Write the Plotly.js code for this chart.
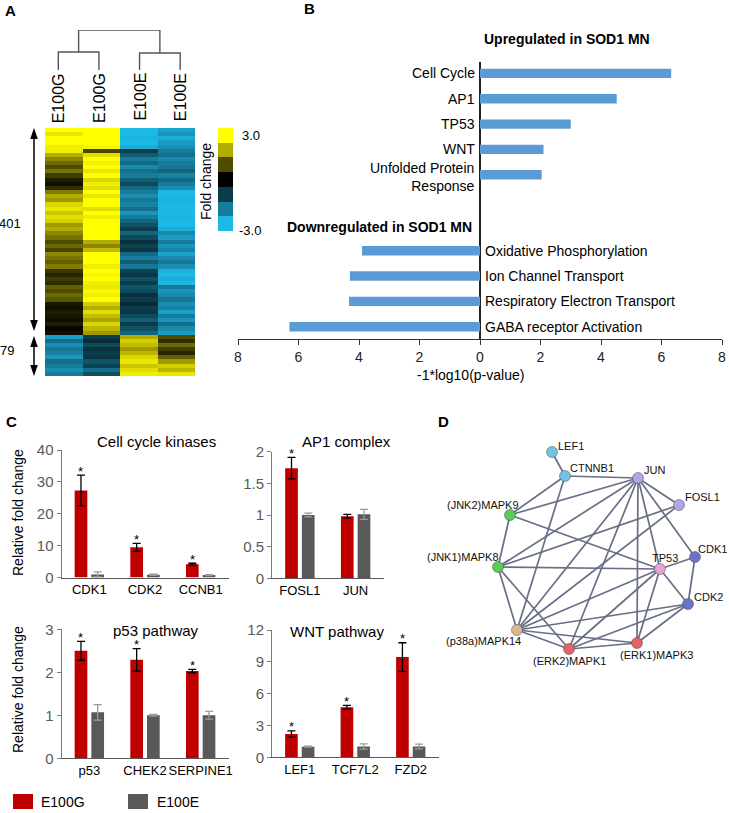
<!DOCTYPE html>
<html>
<head>
<meta charset="utf-8">
<script src="https://cdn.plot.ly/plotly-3.0.1.min.js"></script>
<style>
  html, body { margin: 0; padding: 0; background: #fff; }
  #fig { width: 729px; height: 813px; }
</style>
</head>
<body>
<div id="fig"></div>
<script>
// ---- panel A: heatmap (rows top to bottom, 50 rows for the 401 cluster, 10 for the 79 cluster)
const heatG1 = [3, 2.7, 3, 3, 2.8, 2.8, 2.0, 1.6, 1.3, 1.0, 1.4, 0.8, 0.4, 0.2, 0.6, 1.5, 2.0, 1.8, 2.5, 2.7, 2.3, 2.6, 2.4, 1.8, 2.0, 1.6, 1.4, 1.0, 1.3, 0.9, 1.6, 1.4, 1.2, 1.5, 0.7, 0.5, 0.8, 0.6, 1.2, 1.0, 1.3, 1.1, 0.3, 0.2, 0.4, 0.3, 0.2, 0.4, 0.1, 0.2,
  -2.6, -1.8, -2.3, -1.9, -2.1, -2.4, -1.8, -2.0, -2.3, -2.0];
const heatG2 = [3, 3, 3, 3, 2.9, 0.9, 2.6, 3, 2.8, 3, 2.7, 3, 2.5, 2.8, 2.6, 3, 2.7, 3, 3, 2.6, 3, 2.8, 3, 3, 3, 3, 3, 2.0, 1.6, 2.2, 3, 3, 3, 2.8, 3, 2.9, 3, 2.8, 2.7, 2.9, 2.8, 3, 2.4, 2.0, 2.6, 2.2, 1.9, 2.5, 2.1, 1.8,
  -1.0, -0.7, -1.2, -0.8, -1.0, -0.9, -1.4, -1.1, -1.8, -1.3];
const heatE1 = [-3, -3, -2.9, -3, -2.8, -1.0, -1.5, -2.0, -1.7, -2.2, -1.8, -2.0, -1.5, -1.2, -1.7, -2.0, -2.3, -1.9, -2.1, -1.8, -2.4, -2.0, -1.6, -1.3, -1.0, -1.6, -1.2, -0.8, -1.1, -0.9, -1.7, -2.0, -1.5, -1.9, -1.1, -0.9, -1.3, -1.0, -1.4, -1.2, -0.8, -1.0, -0.7, -1.0, -0.9, -1.2, -1.5, -1.0, -1.3, -1.6,
  2.0, 2.4, 2.2, 1.8, 2.1, 2.5, 2.7, 2.3, 2.6, 2.8];
const heatE2 = [-2.6, -2.4, -2.8, -2.5, -2.3, -2.0, -1.8, -2.2, -2.0, -1.9, -1.6, -2.1, -1.7, -2.0, -2.3, -3, -3, -2.9, -3, -3, -3, -2.9, -3, -3, -2.8, -2.2, -2.5, -2.0, -2.4, -2.1, -2.6, -2.2, -1.9, -2.3, -2.9, -3, -2.8, -3, -2.0, -2.4, -2.2, -1.9, -2.3, -2.1, -2.6, -2.0, -2.4, -1.8, -2.2, -2.5,
  1.0, 0.6, 1.3, 0.8, 0.5, 1.2, 1.8, 2.4, 2.1, 2.7];
const sampleLabels = ["E100G", "E100G", "E100E", "E100E"];
const dendroHeights = [0.45, 0.425, 1.0]; // pair 1, pair 2, root
const foldSteps = [3, 2, 1, 0, -1, -2, -3];
const clusterSizes = ["401", "79"];

// ---- panel B
const upTerms = ["Cell Cycle", "AP1", "TP53", "WNT", "Unfolded Protein<br>Response"];
const upValues = [6.32, 4.52, 3.0, 2.1, 2.04];
const downTerms = ["Oxidative Phosphorylation", "Ion Channel Transport", "Respiratory Electron Transport", "GABA receptor Activation"];
const downValues = [-3.9, -4.3, -4.33, -6.3];
const bTickVals = [-8, -6, -4, -2, 0, 2, 4, 6, 8];
const bTickText = ["8", "6", "4", "2", "0", "2", "4", "6", "8"];

// ---- panel C
const ccCats = ["CDK1", "CDK2", "CCNB1"];
const ccG = [27.3, 9.5, 4.2], ccGerr = [4.8, 1.2, 0.3];
const ccE = [1.0, 0.9, 0.8], ccEerr = [0.8, 0.2, 0.15];
const ccSig = [1, 1, 1];

const apCats = ["FOSL1", "JUN"];
const apG = [1.74, 0.98], apGerr = [0.17, 0.03];
const apE = [1.0, 1.01], apEerr = [0.03, 0.08];
const apSig = [1, 0];

const p53Cats = ["p53", "CHEK2", "SERPINE1"];
const p53G = [2.5, 2.29, 2.03], p53Gerr = [0.22, 0.26, 0.04];
const p53E = [1.07, 1.0, 1.0], p53Eerr = [0.18, 0.02, 0.09];
const p53Sig = [1, 1, 1];

const wntCats = ["LEF1", "TCF7L2", "FZD2"];
const wntG = [2.2, 4.72, 9.45], wntGerr = [0.3, 0.18, 1.35];
const wntE = [1.0, 1.02, 1.02], wntEerr = [0.05, 0.25, 0.22];
const wntSig = [1, 1, 1];

// ---- panel D network
const nodeNames = ["LEF1", "CTNNB1", "JUN", "FOSL1", "MAPK9", "MAPK8", "TP53", "CDK1", "CDK2", "MAPK14", "MAPK1", "MAPK3"];
const nodeLabels = ["LEF1", "CTNNB1", "JUN", "FOSL1", "(JNK2)MAPK9", "(JNK1)MAPK8", "TP53", "CDK1", "CDK2", "(p38a)MAPK14", "(ERK2)MAPK1", "(ERK1)MAPK3"];
const nodeX = [552, 565, 638, 679, 510, 498, 660, 695, 688, 517, 569, 637];
const nodeY = [452, 476, 478, 505, 515, 567, 569, 557, 604, 630, 649, 643];
const edges = [
  ["LEF1", "CTNNB1"], ["CTNNB1", "JUN"], ["CTNNB1", "MAPK9"], ["CTNNB1", "MAPK14"],
  ["JUN", "MAPK9"], ["JUN", "MAPK8"], ["JUN", "MAPK14"], ["JUN", "MAPK1"], ["JUN", "MAPK3"],
  ["JUN", "TP53"], ["JUN", "FOSL1"], ["JUN", "CDK1"],
  ["FOSL1", "MAPK8"], ["FOSL1", "MAPK14"],
  ["MAPK9", "MAPK8"], ["MAPK9", "TP53"],
  ["MAPK8", "TP53"], ["MAPK8", "MAPK14"], ["MAPK8", "MAPK1"],
  ["TP53", "CDK1"], ["TP53", "CDK2"], ["TP53", "MAPK14"], ["TP53", "MAPK1"], ["TP53", "MAPK3"],
  ["CDK1", "CDK2"], ["CDK2", "MAPK3"], ["CDK2", "MAPK14"], ["CDK2", "MAPK1"],
  ["MAPK14", "MAPK1"], ["MAPK14", "MAPK3"], ["MAPK1", "MAPK3"]
];

// ---------------------------------------------------------------
const W = 729, H = 813;
const fx = p => p / W;
const fy = p => 1 - p / H;
const domX = (a, b) => [fx(a), fx(b)];
const domY = (top, bottom) => [fy(bottom), fy(top)];
const FONT = 'Arial, "Liberation Sans", sans-serif';
const RED = "#c00000", GRAY = "#595959";

const foldScale = [
  [0, "#1cb9e6"], [0.1667, "#177c9c"], [0.3333, "#0b3d4b"], [0.5, "#000000"],
  [0.6667, "#4f4c00"], [0.8333, "#b4ad00"], [1, "#ffff00"]
];

const traces = [];
const annotations = [];
const shapes = [];
const ann = (o) => annotations.push(Object.assign({
  showarrow: false, xanchor: "center", yanchor: "middle",
  font: { family: FONT, size: 14, color: "#000" }
}, o));

// heatmap
traces.push({
  type: "heatmap", xaxis: "x", yaxis: "y",
  z: heatG1.map((v, i) => [v, heatG2[i], heatE1[i], heatE2[i]]),
  x: [0, 1, 2, 3], y: heatG1.map((v, i) => i),
  colorscale: foldScale, zmin: -3, zmax: 3, showscale: false, hoverinfo: "skip"
});
// colour key
traces.push({
  type: "heatmap", xaxis: "x2", yaxis: "y2",
  z: foldSteps.map(v => [v]), x: [0], y: foldSteps.map((v, i) => i),
  colorscale: foldScale, zmin: -3, zmax: 3, showscale: false, hoverinfo: "skip"
});
// dendrogram
const [h1, h2, hr] = dendroHeights;
traces.push({
  type: "scatter", mode: "lines", xaxis: "x3", yaxis: "y3", cliponaxis: false, hoverinfo: "skip",
  x: [0, 0, 1, 1, null, 2, 2, 3, 3, null, 0.5, 0.5, 2.5, 2.5],
  y: [0, h1, h1, 0, null, 0, h2, h2, 0, null, h1, hr, hr, h2],
  line: { color: "#555", width: 1.4 }
});
sampleLabels.forEach((s, i) => ann({ xref: "x3", yref: "paper", x: i, y: fy(71), yanchor: "top", textangle: -90, text: s, font: { family: FONT, size: 16, color: "#000" } }));
ann({ xref: "paper", yref: "paper", x: fx(240), y: fy(136), xanchor: "left", text: foldSteps[0].toFixed(1), font: { family: FONT, size: 13, color: "#000" } });
ann({ xref: "paper", yref: "paper", x: fx(237), y: fy(231), xanchor: "left", text: foldSteps[6].toFixed(1), font: { family: FONT, size: 13, color: "#000" } });
ann({ xref: "paper", yref: "paper", x: fx(206), y: fy(182), textangle: -90, text: "Fold change", font: { family: FONT, size: 14, color: "#000" } });
ann({ xref: "paper", yref: "paper", x: fx(22.5), y: fy(223), xanchor: "right", text: clusterSizes[0], font: { family: FONT, size: 13, color: "#000" } });
ann({ xref: "paper", yref: "paper", x: fx(16), y: fy(351), xanchor: "right", text: clusterSizes[1], font: { family: FONT, size: 13, color: "#000" } });

// double arrows beside the clusters
const arrow = (x, top, bottom) => {
  shapes.push({ type: "line", xref: "paper", yref: "paper", x0: fx(x), x1: fx(x), y0: fy(top + 4), y1: fy(bottom - 4), line: { color: "#000", width: 1.5 } });
  const tri = (apex, dir) => `M ${fx(x)} ${fy(apex)} L ${fx(x - 3.8)} ${fy(apex + dir * 11)} L ${fx(x + 3.8)} ${fy(apex + dir * 11)} Z`;
  shapes.push({ type: "path", xref: "paper", yref: "paper", path: tri(top, 1), fillcolor: "#000", line: { width: 0 } });
  shapes.push({ type: "path", xref: "paper", yref: "paper", path: tri(bottom, -1), fillcolor: "#000", line: { width: 0 } });
};
arrow(34, 128, 331);
arrow(34, 336, 376);

// panel B bars
const upPos = upTerms.map((t, i) => 11 - i);
const downPos = downTerms.map((t, i) => 4 - i);
traces.push({
  type: "bar", orientation: "h", xaxis: "x4", yaxis: "y4", hoverinfo: "skip",
  x: upValues.concat(downValues), y: upPos.concat(downPos), width: 0.37,
  marker: { color: "#5b9bd5" }
});
upTerms.forEach((t, i) => ann({ xref: "x4", yref: "y4", x: 0, y: upPos[i], xanchor: "right", xshift: -3, align: "right", text: t, yshift: i === 4 ? -2 : 0 }));
downTerms.forEach((t, i) => ann({ xref: "x4", yref: "y4", x: 0, y: downPos[i], xanchor: "left", xshift: 3, text: t }));
ann({ xref: "paper", yref: "paper", x: fx(567), y: fy(39), text: "<b>Upregulated in SOD1 MN</b>" });
ann({ xref: "paper", yref: "paper", x: fx(474), y: fy(227), xanchor: "right", text: "<b>Downregulated in SOD1 MN</b>" });
ann({ xref: "paper", yref: "paper", x: fx(471), y: fy(375), text: "-1*log10(p-value)" });

// panel C
function barPanel(cats, g, gErr, e, eErr, sig, n) {
  const xs = cats.map((c, i) => i);
  traces.push({
    type: "bar", xaxis: "x" + n, yaxis: "y" + n, x: xs, y: g, width: 0.228, offset: -0.264,
    marker: { color: RED }, hoverinfo: "skip",
    error_y: { type: "data", array: gErr, color: "#000", thickness: 1.3, width: 4 }
  });
  traces.push({
    type: "bar", xaxis: "x" + n, yaxis: "y" + n, x: xs, y: e, width: 0.228, offset: 0.036,
    marker: { color: GRAY }, hoverinfo: "skip",
    error_y: { type: "data", array: eErr, color: "#9a9a9a", thickness: 1.3, width: 4 }
  });
  // significance stars above the E100G error bars
  xs.forEach(i => {
    if (!sig[i]) return;
    ann({ xref: "x" + n, yref: "y" + n, x: i - 0.15, y: g[i] + gErr[i], yshift: 4, text: "*", font: { family: FONT, size: 13, color: "#000" } });
  });
}
barPanel(ccCats, ccG, ccGerr, ccE, ccEerr, ccSig, 5);
barPanel(apCats, apG, apGerr, apE, apEerr, apSig, 6);
barPanel(p53Cats, p53G, p53Gerr, p53E, p53Eerr, p53Sig, 7);
barPanel(wntCats, wntG, wntGerr, wntE, wntEerr, wntSig, 8);

const titleFont = { family: FONT, size: 15, color: "#000" };
ann({ xref: "paper", yref: "paper", x: fx(156), y: fy(442), text: "Cell cycle kinases", font: titleFont });
ann({ xref: "paper", yref: "paper", x: fx(346), y: fy(442), text: "AP1 complex", font: titleFont });
ann({ xref: "paper", yref: "paper", x: fx(156), y: fy(630), text: "p53 pathway", font: titleFont });
ann({ xref: "paper", yref: "paper", x: fx(337), y: fy(631), text: "WNT pathway", font: titleFont });
ann({ xref: "paper", yref: "paper", x: fx(18), y: fy(513), textangle: -90, text: "Relative fold change" });
ann({ xref: "paper", yref: "paper", x: fx(18), y: fy(690), textangle: -90, text: "Relative fold change" });

// legend
shapes.push({ type: "rect", xref: "paper", yref: "paper", x0: fx(13), x1: fx(33), y0: fy(809), y1: fy(794), fillcolor: RED, line: { width: 0 } });
shapes.push({ type: "rect", xref: "paper", yref: "paper", x0: fx(128), x1: fx(148), y0: fy(809), y1: fy(794), fillcolor: GRAY, line: { width: 0 } });
ann({ xref: "paper", yref: "paper", x: fx(39), y: fy(802), xanchor: "left", text: "E100G" });
ann({ xref: "paper", yref: "paper", x: fx(155), y: fy(802), xanchor: "left", text: "E100E" });

// panel D network
const idx = name => nodeNames.indexOf(name);
const ex = [], ey = [];
edges.forEach(([a, b]) => {
  ex.push(nodeX[idx(a)], nodeX[idx(b)], null);
  ey.push(nodeY[idx(a)], nodeY[idx(b)], null);
});
traces.push({
  type: "scatter", mode: "lines", xaxis: "x9", yaxis: "y9", hoverinfo: "skip",
  x: ex, y: ey, line: { color: "#58607a", width: 1.7 }, opacity: 0.9
});
const nodeColor = {
  LEF1: "#73c3e3", CTNNB1: "#73c3e3", JUN: "#b6a2e6", FOSL1: "#b6a2e6",
  MAPK9: "#55cf55", MAPK8: "#55cf55", TP53: "#e9a3d3", CDK1: "#6a73cc", CDK2: "#6a73cc",
  MAPK14: "#d9b68f", MAPK1: "#e36464", MAPK3: "#e36464"
};
traces.push({
  type: "scatter", mode: "markers", xaxis: "x9", yaxis: "y9", hoverinfo: "skip", cliponaxis: false,
  x: nodeX, y: nodeY,
  marker: {
    size: 11, color: nodeNames.map(n => nodeColor[n]),
    line: { color: "rgba(60,60,80,0.45)", width: 1 }
  }
});
const labelPlace = {
  LEF1: ["left", 4, 6], CTNNB1: ["left", 3, 8], JUN: ["left", 4, 8], FOSL1: ["left", 4, 8],
  MAPK9: ["right", 11, 10], MAPK8: ["right", 3, 10], TP53: ["center", 5, 11],
  CDK1: ["left", 1, 8], CDK2: ["left", 4, 7], MAPK14: ["right", 6, -11],
  MAPK1: ["center", 0, -12], MAPK3: ["center", 19, -12]
};
nodeNames.forEach((n, i) => {
  const p = labelPlace[n];
  ann({ xref: "x9", yref: "y9", x: nodeX[i], y: nodeY[i], xanchor: p[0], xshift: p[1], yshift: p[2], text: nodeLabels[i], font: { family: FONT, size: 11, color: "#111" } });
});

// panel letters
const letter = (t, x, y) => ann({ xref: "paper", yref: "paper", x: fx(x), y: fy(y), text: "<b>" + t + "</b>", font: { family: FONT, size: 15, color: "#000" } });
letter("A", 10, 10); letter("B", 309, 9); letter("C", 11, 422); letter("D", 443, 421);

// axes
const hidden = { showgrid: false, zeroline: false, showticklabels: false, ticks: "", showline: false, fixedrange: true };
const cX = (cats, a, b) => ({
  domain: domX(a, b), range: [-0.5, cats.length - 0.5], tickvals: cats.map((c, i) => i), ticktext: cats,
  tickangle: 0, showline: true, linecolor: "#595959", linewidth: 1, ticks: "", showgrid: false, zeroline: false,
  tickfont: { family: FONT, size: 13, color: "#000" }, fixedrange: true
});
const cY = (top, bottom, max, dtick, anchor) => ({
  domain: domY(top, bottom), range: [0, max], dtick: dtick, anchor: anchor,
  showline: true, linecolor: "#7a7a7a", linewidth: 1, ticks: "outside", ticklen: 4, tickcolor: "#7a7a7a",
  showgrid: false, zeroline: false, tickfont: { family: FONT, size: 15, color: "#595959" }, fixedrange: true
});

const layout = {
  width: W, height: H, margin: { l: 0, r: 0, t: 0, b: 0 },
  paper_bgcolor: "#fff", plot_bgcolor: "rgba(0,0,0,0)",
  font: { family: FONT, color: "#000" },
  showlegend: false, barmode: "overlay",
  xaxis: Object.assign({}, hidden, { domain: domX(45, 195), range: [-0.5, 3.5] }),
  yaxis: Object.assign({}, hidden, { domain: domY(128, 376), range: [heatG1.length - 0.5, -0.5] }),
  xaxis2: Object.assign({}, hidden, { domain: domX(218, 233), range: [-0.5, 0.5], anchor: "y2" }),
  yaxis2: Object.assign({}, hidden, { domain: domY(128, 231), range: [6.5, -0.5], anchor: "x2" }),
  xaxis3: Object.assign({}, hidden, { domain: domX(38, 200.5), range: [-0.5, 3.5], anchor: "y3" }),
  yaxis3: Object.assign({}, hidden, { domain: domY(30, 70), range: [0, 1], anchor: "x3" }),
  xaxis4: {
    domain: domX(238, 722), range: [-8, 8], anchor: "y4", tickvals: bTickVals, ticktext: bTickText,
    showline: true, linecolor: "#333", linewidth: 1.2, ticks: "outside", ticklen: 5, tickcolor: "#333",
    showgrid: false, zeroline: true, zerolinecolor: "#222", zerolinewidth: 1.4,
    tickfont: { family: FONT, size: 14, color: "#222" }, fixedrange: true
  },
  yaxis4: Object.assign({}, hidden, { domain: domY(62, 339), range: [0.515, 11.45], anchor: "x4" }),
  xaxis5: Object.assign(cX(ccCats, 61.5, 228.5), { anchor: "y5" }),
  yaxis5: cY(450, 577.6, 40, 10, "x5"),
  xaxis6: Object.assign(cX(apCats, 272, 383.5), { anchor: "y6" }),
  yaxis6: cY(451.7, 578.3, 2, 0.5, "x6"),
  xaxis7: Object.assign(cX(p53Cats, 61.5, 228.5), { anchor: "y7" }),
  yaxis7: cY(629.3, 758.3, 3, 1, "x7"),
  xaxis8: Object.assign(cX(wntCats, 272, 438.5), { anchor: "y8" }),
  yaxis8: cY(630, 757.3, 12, 3, "x8"),
  xaxis9: Object.assign({}, hidden, { domain: domX(440, 729), range: [440, 729], anchor: "y9" }),
  yaxis9: Object.assign({}, hidden, { domain: domY(430, 680), range: [680, 430], anchor: "x9" }),
  annotations: annotations,
  shapes: shapes
};

Plotly.newPlot("fig", traces, layout, { displayModeBar: false, staticPlot: true });
</script>
</body>
</html>
